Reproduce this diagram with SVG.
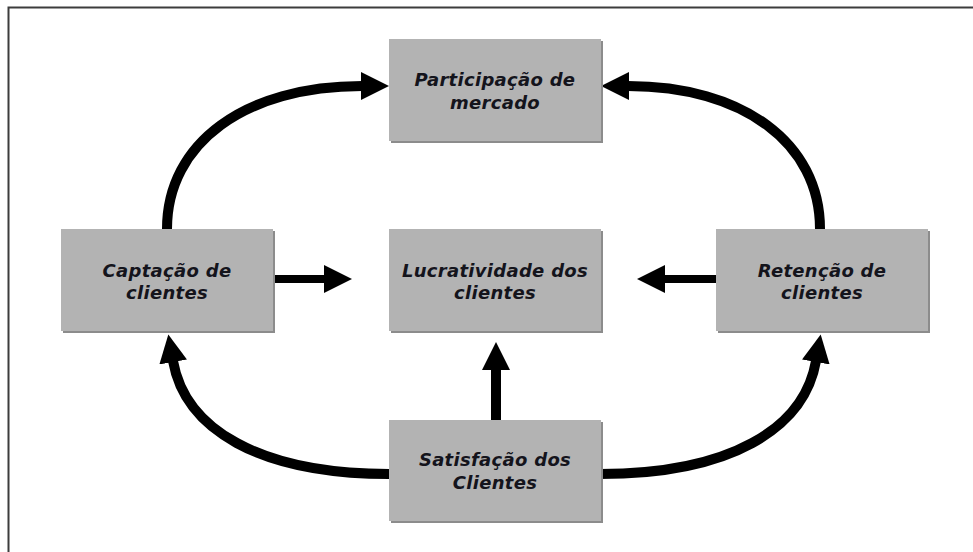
<svg xmlns="http://www.w3.org/2000/svg" width="973" height="552" viewBox="0 0 973 552">
  <style>
    .shadow { fill: #8c8c8c; }
    .box { fill: #b3b3b3; }
    .lbl { font-family: "DejaVu Sans", Verdana, sans-serif; font-weight: bold; font-style: italic; font-size: 18px; letter-spacing: 0.3px; fill: #14141c; text-anchor: middle; }
    .arc { fill: none; stroke: #000; stroke-width: 10; }
    .straight { fill: none; stroke: #000; stroke-width: 8; }
    .frame { fill: none; stroke: #3c3c3c; stroke-width: 2; }
  </style>
  <defs>
    <marker id="head" markerUnits="userSpaceOnUse" markerWidth="28" markerHeight="28" viewBox="0 0 28 28" refX="1" refY="14" orient="auto">
      <path d="M0,0 L28,14 L0,28 Z" fill="#000"/>
    </marker>
  </defs>
  <rect width="973" height="552" fill="#fff"/>
  <path class="frame" d="M8.5,552 L8.5,7.5 L973,7.5"/>

  <g id="connectors">
    <path class="arc" d="M167,229 C167,143 245,86 362,86" marker-end="url(#head)"/>
    <path class="arc" d="M820,229 C820,143 743,86 628,86" marker-end="url(#head)"/>
    <path class="arc" d="M389,474 C259,474 185,429 173,361" marker-end="url(#head)"/>
    <path class="arc" d="M600,474 C730,474 804,429 816,361" marker-end="url(#head)"/>
    <path class="straight" d="M273,279 L325,279" marker-end="url(#head)"/>
    <path class="straight" d="M716,279 L664,279" marker-end="url(#head)"/>
    <path class="arc" d="M496,420 L496,369" marker-end="url(#head)"/>
  </g>

  <g id="participacao">
    <rect class="shadow" x="391" y="41" width="212" height="102"/>
    <rect class="box" x="389" y="39" width="212" height="102"/>
    <text class="lbl" x="495" y="86">Participação de</text>
    <text class="lbl" x="495" y="109">mercado</text>
  </g>
  <g id="captacao">
    <rect class="shadow" x="63" y="231" width="212" height="102"/>
    <rect class="box" x="61" y="229" width="212" height="102"/>
    <text class="lbl" x="167" y="277">Captação de</text>
    <text class="lbl" x="167" y="299">clientes</text>
  </g>
  <g id="lucratividade">
    <rect class="shadow" x="391" y="231" width="212" height="102"/>
    <rect class="box" x="389" y="229" width="212" height="102"/>
    <text class="lbl" x="495" y="277">Lucratividade dos</text>
    <text class="lbl" x="495" y="299">clientes</text>
  </g>
  <g id="retencao">
    <rect class="shadow" x="718" y="231" width="212" height="102"/>
    <rect class="box" x="716" y="229" width="212" height="102"/>
    <text class="lbl" x="822" y="277">Retenção de</text>
    <text class="lbl" x="822" y="299">clientes</text>
  </g>
  <g id="satisfacao">
    <rect class="shadow" x="391" y="422" width="212" height="101"/>
    <rect class="box" x="389" y="420" width="212" height="101"/>
    <text class="lbl" x="495" y="466">Satisfação dos</text>
    <text class="lbl" x="495" y="489">Clientes</text>
  </g>
</svg>
